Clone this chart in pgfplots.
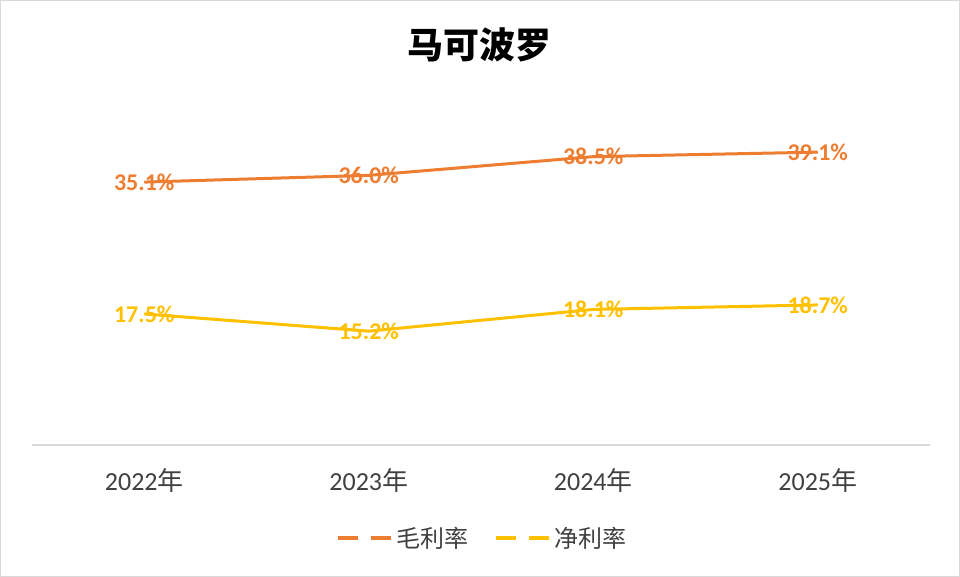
\documentclass[border=0pt]{standalone}
\usepackage{fontspec}
\setmainfont{Carlito}
\newfontfamily\cjk{Noto Sans CJK SC}
\usepackage{pgfplots}
\pgfplotsset{compat=1.18}
\definecolor{gm}{HTML}{ED7D31}
\definecolor{nm}{HTML}{FFC000}
\definecolor{txt}{HTML}{404040}
\definecolor{gridc}{HTML}{D9D9D9}
\begin{document}
\begin{tikzpicture}
\useasboundingbox (0pt,0pt) rectangle (720pt,432.75pt);
\draw[gridc, line width=0.75pt] (0.375pt,0.375pt) rectangle (719.625pt,432.375pt);
\node[font=\cjk\bfseries\fontsize{27}{33}\selectfont, text=black] at (359.25pt,399pt) {马可波罗};
\begin{axis}[
  at={(24pt,99pt)}, anchor=south west,
  scale only axis, width=673.5pt, height=280.875pt,
  xmin=-0.5, xmax=3.5, ymin=0, ymax=50,
  clip=false,
  axis x line=bottom, axis y line=none,
  x axis line style={draw=gridc, line width=1.2pt, -},
  xtick={0,1,2,3},
  xticklabels={2022{\cjk 年},2023{\cjk 年},2024{\cjk 年},2025{\cjk 年}},
  major tick length=0pt,
  ytick=\empty,
  xticklabel style={font=\fontsize{19.5}{23}\selectfont, text=txt, yshift=-14pt},
  point meta=y,
  /pgf/number format/assume math mode=true,
  nodes near coords={\pgfmathprintnumber[fixed,fixed zerofill,precision=1,assume math mode=true]{\pgfplotspointmeta}\%},
  every node near coord/.append style={anchor=center, font=\bfseries\fontsize{18}{22}\selectfont},
  legend style={at={(0.502,-0.248)}, anchor=center, draw=none, fill=none,
    legend columns=2, font=\cjk\fontsize{18}{22}\selectfont, text=txt,
    /tikz/every even column/.append style={column sep=17pt}},
  legend image code/.code={\draw[#1, dash pattern=on 15pt off 10pt, line width=2.6pt] (0pt,0pt) -- (41pt,0pt);},
]
\addplot[gm, line width=2.25pt, mark=none, every node near coord/.append style={text=gm}]
  coordinates {(0,35.1) (1,36.0) (2,38.5) (3,39.1)};
\addlegendentry{毛利率}
\addplot[nm, line width=2.25pt, mark=none, every node near coord/.append style={text=nm}]
  coordinates {(0,17.5) (1,15.2) (2,18.1) (3,18.7)};
\addlegendentry{净利率}
\end{axis}
\end{tikzpicture}
\end{document}
